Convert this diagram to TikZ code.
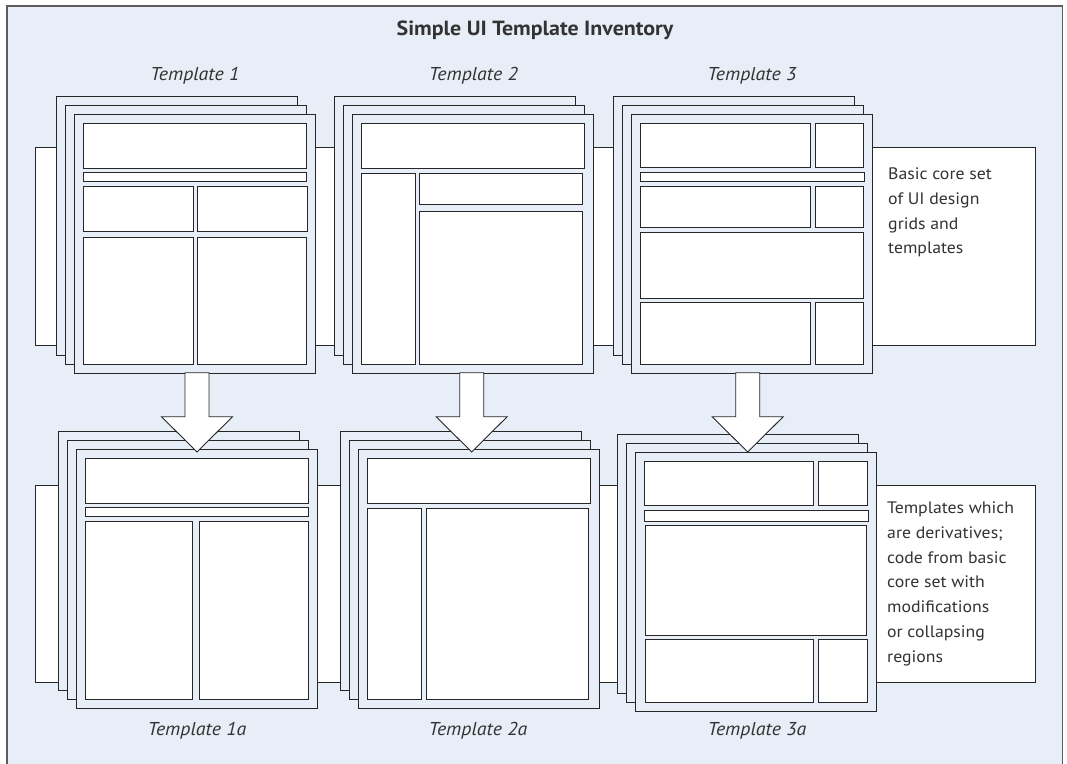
\documentclass[tikz,border=0pt]{standalone}
\usepackage{fontspec}
\setmainfont[FakeStretch=1.07]{PT Sans}
\definecolor{bgblue}{HTML}{E8EEF7}
\definecolor{ink}{HTML}{262626}
\definecolor{shade}{HTML}{8E8E8E}
\definecolor{txt}{HTML}{333333}

\tikzset{
  shadowed/.style={preaction={draw=shade, line width=0.9pt,
      transform canvas={xshift=0.9pt, yshift=-0.9pt}}},
  frame/.style={draw=ink!75, line width=1.2pt, fill=bgblue},
  band/.style={draw=ink, line width=0.9pt, fill=white},
  sheet/.style={shadowed, draw=ink, line width=0.9pt, fill=bgblue},
  cell/.style={shadowed, draw=ink, line width=0.9pt, fill=white},
  blockarrow/.style={draw=ink, line width=0.9pt, fill=white, line join=miter},
  heading/.style={font=\fontsize{20.5}{24}\selectfont\bfseries, text=txt, inner sep=0pt, anchor=base},
  caption/.style={font=\fontsize{18.6}{22}\selectfont\itshape, text=txt, inner sep=0pt, anchor=base},
  note/.style={font=\fontsize{16.6}{24.8}\selectfont, text=txt, inner sep=0pt, align=left, anchor=north west}
}

% three stacked sheets; #1,#2 = top-left corner of the front sheet
\newcommand\sheetstack[2]{%
  \draw[sheet] (#1-18,#2-18) rectangle ++(241,259);
  \draw[sheet] (#1-9,#2-9) rectangle ++(241,259);
  \draw[sheet] (#1,#2) rectangle ++(241,259);
}
% downward block arrow centred on #1
\newcommand\derivarrow[1]{%
  \draw[blockarrow] (#1-12,372.7) -- (#1-12,416.7) -- (#1-35.5,416.7)
    -- (#1,452) -- (#1+35.5,416.7) -- (#1+12,416.7) -- (#1+12,372.7) -- cycle;
}

\begin{document}
\begin{tikzpicture}[x=1pt, y=-1pt, line join=miter]
\useasboundingbox (0,0) rectangle (1067,763);

% outer panel
\begin{scope}
  \clip (0,0) rectangle (1067,763);
  \draw[frame] (7,6) rectangle (1062.5,780);
\end{scope}

% white bands behind each row
\draw[band] (35,147) rectangle (1035,345);
\draw[band] (35,485) rectangle (1035,682);

% titles
\node[heading] (title) at (535,35) {Simple UI Template Inventory};
\node[caption] (t1) at (195,80) {Template 1};
\node[caption] (t2) at (473.5,80) {Template 2};
\node[caption] (t3) at (752,80) {Template 3};
\node[caption] (t1a) at (197,735.5) {Template 1a};
\node[caption] (t2a) at (478,735.5) {Template 2a};
\node[caption] (t3a) at (757,735.5) {Template 3a};

\node[note] (core) at (888,167.5) {Basic core set\\of UI design\\grids and\\templates};
\node[note] (deriv) at (887,501.5) {Templates which\\are derivatives;\\code from basic\\core set with\\modifications\\or collapsing\\regions};

% ---- Template 1
\sheetstack{74}{114}
\begin{scope}[shift={(74,114)}]
  \draw[cell] (9,9) rectangle (232,54);
  \draw[cell] (9,58) rectangle (232,67);
  \draw[cell] (9,72) rectangle (119,117);
  \draw[cell] (123,72) rectangle (233,117);
  \draw[cell] (9,123) rectangle (119,250);
  \draw[cell] (123,123) rectangle (232,250);
\end{scope}

% ---- Template 2
\sheetstack{352}{114}
\begin{scope}[shift={(352,114)}]
  \draw[cell] (9,9) rectangle (232,54);
  \draw[cell] (9,59) rectangle (63,250);
  \draw[cell] (67,59) rectangle (230,90);
  \draw[cell] (67,97) rectangle (230,250);
\end{scope}

% ---- Template 3
\sheetstack{631}{114}
\begin{scope}[shift={(631,114)}]
  \draw[cell] (9,9) rectangle (179,53);
  \draw[cell] (184,9) rectangle (232,53);
  \draw[cell] (9,58) rectangle (233,67);
  \draw[cell] (9,72) rectangle (179,113);
  \draw[cell] (184,72) rectangle (232,113);
  \draw[cell] (9,118) rectangle (232,184);
  \draw[cell] (9,188) rectangle (179,250);
  \draw[cell] (184,188) rectangle (232,250);
\end{scope}

% ---- Template 1a
\sheetstack{76}{449}
\begin{scope}[shift={(76,449)}]
  \draw[cell] (9,9) rectangle (232,54);
  \draw[cell] (9,58) rectangle (232,67);
  \draw[cell] (9,72) rectangle (116,250);
  \draw[cell] (123,72) rectangle (232,250);
\end{scope}

% ---- Template 2a
\sheetstack{358}{449}
\begin{scope}[shift={(358,449)}]
  \draw[cell] (9,9) rectangle (232,54);
  \draw[cell] (9,59) rectangle (63,250);
  \draw[cell] (68,59) rectangle (230,250);
\end{scope}

% ---- Template 3a
\sheetstack{635}{452}
\begin{scope}[shift={(635,452)}]
  \draw[cell] (9,9) rectangle (178,53);
  \draw[cell] (183,9) rectangle (232,53);
  \draw[cell] (9,58) rectangle (233,69);
  \draw[cell] (10,73) rectangle (231,183);
  \draw[cell] (10,187) rectangle (178,250);
  \draw[cell] (183,187) rectangle (232,250);
\end{scope}

% derivation arrows
\derivarrow{197}
\derivarrow{471.7}
\derivarrow{747.7}
\end{tikzpicture}
\end{document}
